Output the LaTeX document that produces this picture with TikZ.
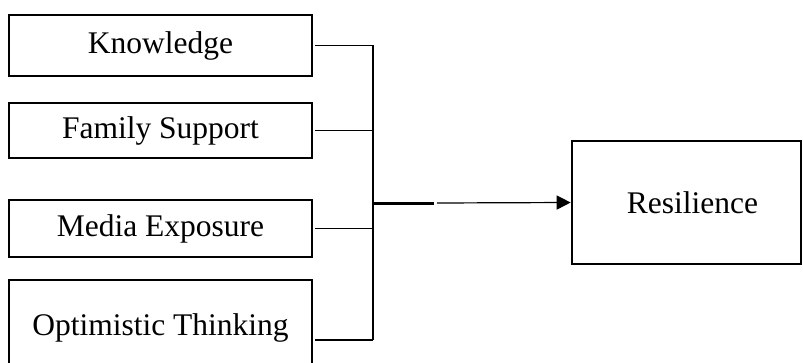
\documentclass[tikz,border=0pt]{standalone}
\usepackage{fontspec}
\setmainfont{Liberation Serif}
\usetikzlibrary{arrows.meta}
\begin{document}
\begin{tikzpicture}[x=1pt,y=1pt,
  box/.style={draw=black,line width=2.6pt,minimum width=303pt,inner sep=0pt,
    font=\fontsize{31.5}{38}\selectfont},
  conn/.style={draw=black,line width=1.2pt}]
\useasboundingbox (0,0) rectangle (803,362);
\clip (0,0) rectangle (803,362);
\node[box,minimum height=61pt] (k) at (160.5,316.5) {Knowledge};
\node[box,minimum height=55pt] (f) at (160.5,231.5) {Family Support};
\node[box,minimum height=57pt] (m) at (160.5,133.5) {Media Exposure};
\node[box,minimum height=96pt] (o) at (160.5,34) {Optimistic Thinking};
\node[box,minimum width=229pt,minimum height=123pt,text depth=0pt] (r) at (686.5,159.5) {\hspace{12pt}Resilience};
\coordinate (j) at (373,159);
\coordinate (jt) at (434,159);
\coordinate (ja) at (437,159);
\coordinate (oe) at ([yshift=-12pt]o.east);
\draw[conn] ([xshift=2pt]k.east) -- (k.east -| j);
\draw[conn] ([xshift=2pt]f.east) -- (f.east -| j);
\draw[conn] ([xshift=2pt]m.east) -- (m.east -| j);
\draw[conn] ([xshift=2pt]oe) -- (oe -| j);
\draw[draw=black,line width=1.8pt] (k.east -| j) -- (oe -| j);
\draw[draw=black,line width=3pt] (j) -- (jt);
\draw[conn,-{Triangle[length=14pt,width=14pt]}] (ja) -- (r.west);
\end{tikzpicture}
\end{document}
